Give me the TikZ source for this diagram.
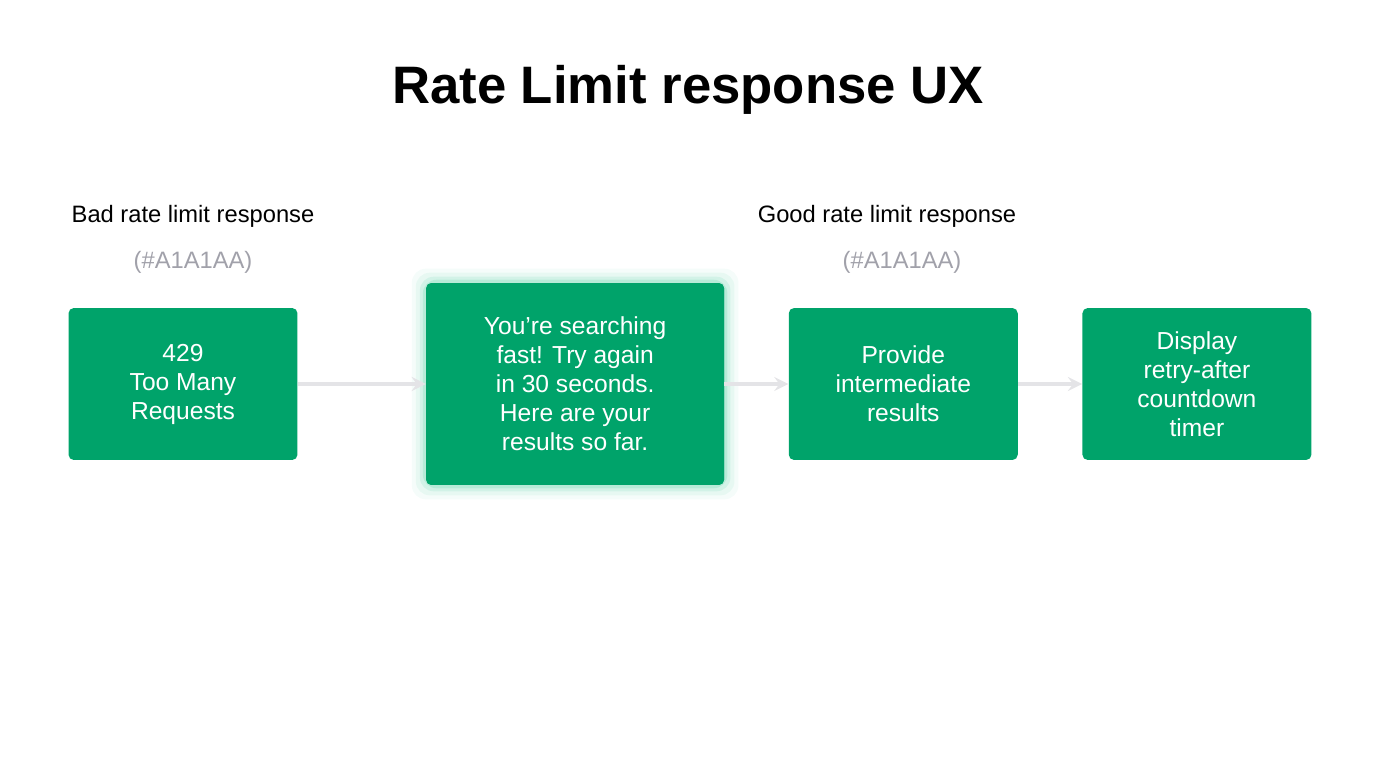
\documentclass[tikz,border=0pt]{standalone}
\usepackage{fontspec}
\setmainfont{Liberation Sans}
\usetikzlibrary{positioning}
\definecolor{boxgreen}{RGB}{0,163,106}
\definecolor{glowgreen}{RGB}{60,200,150}
\definecolor{arrowgray}{RGB}{228,228,231}
\definecolor{hexgray}{RGB}{161,161,170}
\begin{document}
\begin{tikzpicture}[x=0.02cm,y=-0.02cm,node distance=1.28cm,
  stage/.style={fill=boxgreen,rounded corners=3pt,text=white,align=center,
    minimum width=4.58cm,minimum height=3.04cm,font=\fontsize{14}{16.5}\selectfont},
  link/.style={->,>=stealth,draw=arrowgray,line width=2.5pt},
  caption/.style={font=\fontsize{13.5}{16}\selectfont},
  hex/.style={text=hexgray,font=\fontsize{13.5}{16}\selectfont}]
\useasboundingbox (0,0) rectangle (1376,768);
\node[font=\bfseries\fontsize{30}{36}\selectfont] (title) at (688,90) {Rate Limit response UX};

\node[stage] (bad) at (183,384) {429\\Too Many\\Requests};
\node[stage,minimum width=5.96cm,minimum height=4.04cm,right=2.56cm of bad] (msg) {};
\foreach \g/\o in {14/0.05,10/0.08,6/0.12,3/0.18}
  \fill[glowgreen,opacity=\o,rounded corners=8pt]
    ([xshift=-\g*0.02cm,yshift=\g*0.02cm]msg.north west) rectangle ([xshift=\g*0.02cm,yshift=-\g*0.02cm]msg.south east);
\node[stage,minimum width=5.96cm,minimum height=4.04cm] (msgtext) at (msg) {You're searching\\fast! Try again\\in 30 seconds.\\Here are your\\results so far.};
\node[stage,right=of msg] (partial) {Provide\\intermediate\\results};
\node[stage,right=of partial] (timer) {Display\\retry-after\\countdown\\timer};

\node[caption] (badcap) at (193,216) {Bad rate limit response};
\node[hex] (badhex) at (193,262) {(\#A1A1AA)};
\node[caption] (goodcap) at (887,216) {Good rate limit response};
\node[hex] (goodhex) at (902,262) {(\#A1A1AA)};

\path
(bad) edge[link] (msgtext)
(msgtext) edge[link] (partial)
(partial) edge[link] (timer);
\end{tikzpicture}
\end{document}
